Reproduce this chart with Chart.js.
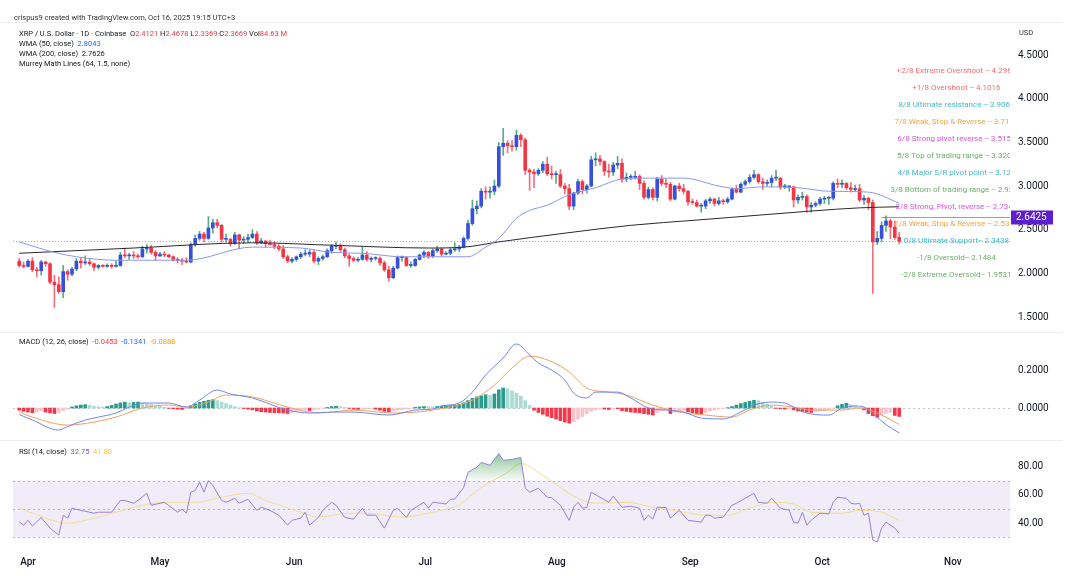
<!DOCTYPE html>
<html>
<head>
<meta charset="utf-8">
<title>XRP / U.S. Dollar - 1D</title>
<script src="https://cdn.jsdelivr.net/npm/chart.js@4.4.1/dist/chart.umd.min.js"></script>
<style>
  body { margin: 0; background: #fff; font-family: Roboto, "Liberation Sans", sans-serif; }
  #wrap { position: relative; width: 1065px; height: 576px; overflow: hidden; }
  canvas { position: absolute; left: 0; }
  .t { position: absolute; font-size: 7.5px; line-height: 10px; color: #131722; white-space: nowrap; }
  .sep { position: absolute; left: 0; width: 1062px; height: 1px; background: #eceef2; }
  .r { color: #f23645; }
</style>
</head>
<body>
<div id="wrap">
  <canvas id="price" width="1065" height="311" style="top:22px"></canvas>
  <canvas id="macd" width="1065" height="108" style="top:333px"></canvas>
  <canvas id="rsi" width="1065" height="135" style="top:441px"></canvas>
  <div class="sep" style="top:22px"></div>
  <div class="sep" style="top:332px"></div>
  <div class="sep" style="top:440px"></div>

  <div class="t" style="left:14px;top:13px;color:#333">crispus9 created with TradingView.com, Oct 16, 2025 19:15 UTC+3</div>
  <div class="t" style="left:19px;top:29px">XRP / U.S. Dollar · 1D · Coinbase&nbsp; O<span class="r" id="lo"></span> H<span class="r" id="lh"></span> L<span class="r" id="ll"></span> C<span class="r" id="lc"></span> Vol<span class="r">84.63 M</span></div>
  <div class="t" style="left:19px;top:39px">WMA (50, close)&nbsp; <span id="lw50" style="color:#2962ff"></span></div>
  <div class="t" style="left:19px;top:49px">WMA (200, close)&nbsp; <span id="lw200"></span></div>
  <div class="t" style="left:19px;top:59px">Murrey Math Lines (64, 1.5, none)</div>
  <div class="t" style="left:1019px;top:28px;color:#333">USD</div>
  <div class="t" style="left:19px;top:337px">MACD (12, 26, close)&nbsp; <span id="mh" class="r"></span>&nbsp; <span id="mm" style="color:#2962ff"></span>&nbsp; <span id="ms" style="color:#ff9800"></span></div>
  <div class="t" style="left:19px;top:447px">RSI (14, close)&nbsp; <span id="rv" style="color:#7e57c2"></span>&nbsp; <span id="rm" style="color:#f5c542"></span></div>
</div>

<script>
// daily candles, Mar 30 .. Oct 16 2025 (day 0 = Apr 1)
const firstDay = -2;
// where the month labels sit on the day axis
const monthTicks = [0, 30, 60.5, 90.3, 120.2, 150.5, 180.5, 210.2];
const monthLabels = ["Apr", "May", "Jun", "Jul", "Aug", "Sep", "Oct", "Nov"];
const priceTicks = [1.5, 2, 2.5, 3, 3.5, 4, 4.5];
const macdTicks = [0, 0.2];
const rsiTicks = [40, 60, 80];

const open = [
  2.14, 2.09,
  2.08, 2.14, 2.04, 2.03, 2.13, 2.11, 1.90, 1.87, 1.79, 2.02, 1.99, 2.05, 2.14, 2.12, 2.13, 2.11, 2.07, 2.09, 2.08, 2.09, 2.08, 2.09, 2.21, 2.20, 2.21, 2.20, 2.19, 2.28, 2.29, 2.24,
  2.20, 2.22, 2.21, 2.19, 2.16, 2.15, 2.14, 2.13, 2.33, 2.40, 2.45, 2.40, 2.52, 2.58, 2.55, 2.39, 2.39, 2.34, 2.44, 2.38, 2.39, 2.41, 2.45, 2.35, 2.37, 2.34, 2.33, 2.31, 2.28, 2.19, 2.14,
  2.16, 2.19, 2.22, 2.22, 2.24, 2.14, 2.17, 2.19, 2.26, 2.31, 2.32, 2.27, 2.20, 2.17, 2.15, 2.16, 2.21, 2.16, 2.17, 2.17, 2.12, 2.04, 1.95, 2.06, 2.18, 2.18, 2.09, 2.09, 2.16, 2.21,
  2.24, 2.20, 2.26, 2.28, 2.22, 2.23, 2.27, 2.28, 2.30, 2.40, 2.57, 2.74, 2.77, 2.94, 2.93, 2.94, 3.00, 3.45, 3.49, 3.46, 3.45, 3.58, 3.53, 3.18, 3.16, 3.14, 3.18, 3.25, 3.14, 3.13, 3.13,
  3.00, 2.97, 2.77, 2.92, 3.05, 2.96, 3.00, 3.30, 3.31, 3.28, 3.17, 3.16, 3.24, 3.26, 3.08, 3.10, 3.10, 3.11, 3.03, 2.87, 2.96, 2.87, 3.08, 3.03, 3.02, 2.85, 3.00, 2.97, 2.94, 2.82, 2.81,
  2.77, 2.77, 2.83, 2.85, 2.80, 2.83, 2.82, 2.85, 2.96, 2.93, 3.02, 3.05, 3.10, 3.13, 3.05, 3.03, 3.04, 3.09, 3.09, 2.99, 2.99, 2.99, 2.84, 2.87, 2.88, 2.76, 2.78, 2.80, 2.85, 2.86,
  2.86, 3.03, 3.02, 3.03, 2.98, 2.96, 2.97, 2.84, 2.86, 2.81, 2.36, 2.40, 2.55, 2.60, 2.53, 2.4121
];
const high = [
  2.17, 2.13,
  2.16, 2.18, 2.07, 2.15, 2.14, 2.12, 1.98, 1.96, 2.09, 2.04, 2.07, 2.17, 2.18, 2.20, 2.16, 2.12, 2.10, 2.10, 2.11, 2.11, 2.14, 2.24, 2.29, 2.23, 2.25, 2.22, 2.31, 2.33, 2.32, 2.26,
  2.24, 2.25, 2.22, 2.20, 2.18, 2.17, 2.18, 2.35, 2.44, 2.48, 2.47, 2.65, 2.62, 2.62, 2.56, 2.45, 2.40, 2.47, 2.45, 2.42, 2.45, 2.50, 2.48, 2.40, 2.38, 2.38, 2.36, 2.33, 2.32, 2.21, 2.18,
  2.20, 2.24, 2.27, 2.27, 2.26, 2.19, 2.21, 2.28, 2.33, 2.36, 2.34, 2.29, 2.22, 2.19, 2.18, 2.30, 2.25, 2.19, 2.19, 2.19, 2.14, 2.08, 2.08, 2.20, 2.20, 2.19, 2.13, 2.17, 2.22, 2.26,
  2.25, 2.28, 2.31, 2.29, 2.25, 2.29, 2.35, 2.32, 2.42, 2.61, 2.84, 2.83, 2.97, 2.99, 2.99, 3.07, 3.50, 3.66, 3.52, 3.52, 3.64, 3.60, 3.55, 3.20, 3.19, 3.20, 3.28, 3.33, 3.23, 3.17, 3.19,
  3.03, 3.02, 2.93, 3.08, 3.07, 3.02, 3.34, 3.38, 3.35, 3.29, 3.25, 3.27, 3.34, 3.31, 3.15, 3.13, 3.17, 3.13, 3.06, 2.99, 2.98, 3.10, 3.12, 3.08, 3.04, 3.01, 3.03, 3.02, 2.95, 2.85, 2.84,
  2.80, 2.85, 2.87, 2.86, 2.87, 2.85, 2.87, 2.98, 3.01, 3.04, 3.07, 3.13, 3.18, 3.14, 3.09, 3.07, 3.12, 3.18, 3.10, 3.02, 3.00, 3.00, 2.90, 2.93, 2.90, 2.81, 2.82, 2.87, 2.88, 2.88,
  3.05, 3.08, 3.07, 3.04, 3.04, 3.01, 3.02, 2.89, 2.87, 2.84, 2.48, 2.59, 2.66, 2.62, 2.60, 2.4678
];
const low = [
  2.07, 2.06,
  2.07, 2.02, 1.96, 1.98, 2.08, 1.88, 1.61, 1.77, 1.72, 1.92, 1.97, 2.03, 2.06, 2.10, 2.09, 2.03, 2.05, 2.07, 2.07, 2.06, 2.07, 2.08, 2.18, 2.16, 2.17, 2.17, 2.18, 2.23, 2.22, 2.15,
  2.19, 2.19, 2.18, 2.14, 2.12, 2.10, 2.12, 2.12, 2.31, 2.38, 2.36, 2.39, 2.46, 2.52, 2.36, 2.36, 2.31, 2.33, 2.28, 2.34, 2.35, 2.40, 2.33, 2.34, 2.30, 2.32, 2.28, 2.26, 2.17, 2.12, 2.12,
  2.14, 2.17, 2.20, 2.19, 2.12, 2.10, 2.15, 2.18, 2.23, 2.28, 2.25, 2.18, 2.08, 2.13, 2.13, 2.15, 2.14, 2.13, 2.15, 2.09, 2.02, 1.91, 1.94, 2.05, 2.14, 2.08, 2.07, 2.08, 2.15, 2.18,
  2.17, 2.18, 2.24, 2.20, 2.21, 2.21, 2.25, 2.25, 2.29, 2.38, 2.55, 2.68, 2.75, 2.85, 2.86, 2.90, 2.98, 3.35, 3.38, 3.40, 3.41, 3.45, 3.13, 2.95, 2.98, 3.12, 3.15, 3.12, 3.08, 3.03, 2.98,
  2.91, 2.73, 2.73, 2.90, 2.91, 2.92, 2.99, 3.23, 3.24, 3.12, 3.10, 3.12, 3.20, 3.04, 3.05, 3.07, 3.08, 2.96, 2.85, 2.85, 2.84, 2.83, 3.00, 2.98, 2.83, 2.84, 2.94, 2.91, 2.78, 2.79, 2.76,
  2.70, 2.74, 2.80, 2.77, 2.78, 2.79, 2.80, 2.84, 2.92, 2.92, 3.00, 3.03, 3.08, 3.03, 2.96, 3.00, 2.99, 3.06, 2.96, 2.97, 2.94, 2.76, 2.80, 2.84, 2.70, 2.70, 2.76, 2.78, 2.80, 2.79,
  2.84, 2.98, 2.98, 2.96, 2.93, 2.94, 2.82, 2.79, 2.73, 1.77, 2.33, 2.36, 2.48, 2.40, 2.39, 2.3369
];
const close = [
  2.09, 2.08,
  2.14, 2.04, 2.03, 2.13, 2.11, 1.90, 1.87, 1.79, 2.02, 1.99, 2.05, 2.14, 2.12, 2.13, 2.11, 2.07, 2.09, 2.08, 2.09, 2.08, 2.09, 2.21, 2.20, 2.21, 2.20, 2.19, 2.28, 2.29, 2.24, 2.20,
  2.22, 2.21, 2.19, 2.16, 2.15, 2.14, 2.13, 2.33, 2.40, 2.45, 2.40, 2.52, 2.58, 2.55, 2.39, 2.39, 2.34, 2.44, 2.38, 2.39, 2.41, 2.45, 2.35, 2.37, 2.34, 2.33, 2.31, 2.28, 2.19, 2.14, 2.16,
  2.19, 2.22, 2.22, 2.24, 2.14, 2.17, 2.19, 2.26, 2.31, 2.32, 2.27, 2.20, 2.17, 2.15, 2.16, 2.21, 2.16, 2.17, 2.17, 2.12, 2.04, 1.95, 2.06, 2.18, 2.18, 2.09, 2.09, 2.16, 2.21, 2.24,
  2.20, 2.26, 2.28, 2.22, 2.23, 2.27, 2.28, 2.30, 2.40, 2.57, 2.74, 2.77, 2.94, 2.93, 2.94, 3.00, 3.45, 3.49, 3.46, 3.45, 3.58, 3.53, 3.18, 3.16, 3.14, 3.18, 3.25, 3.14, 3.13, 3.13, 3.00,
  2.97, 2.77, 2.92, 3.05, 2.96, 3.00, 3.30, 3.31, 3.28, 3.17, 3.16, 3.24, 3.26, 3.08, 3.10, 3.10, 3.11, 3.03, 2.87, 2.96, 2.87, 3.08, 3.03, 3.02, 2.85, 3.00, 2.97, 2.94, 2.82, 2.81, 2.77,
  2.77, 2.83, 2.85, 2.80, 2.83, 2.82, 2.85, 2.96, 2.93, 3.02, 3.05, 3.10, 3.13, 3.05, 3.03, 3.04, 3.09, 3.09, 2.99, 2.99, 2.99, 2.84, 2.87, 2.88, 2.76, 2.78, 2.80, 2.85, 2.86, 2.86,
  3.03, 3.02, 3.03, 2.98, 2.96, 2.97, 2.84, 2.86, 2.81, 2.36, 2.40, 2.55, 2.60, 2.53, 2.41, 2.3669
];

// moving averages (day, value)
const wma50Days = [-2, 6, 11, 20, 36, 51, 62, 69, 76, 85, 91, 100, 104, 107, 111, 114, 118, 123, 129, 135, 141, 149, 157, 161, 167, 175, 182, 191, 198];
const wma50 = [2.36, 2.24, 2.19, 2.15, 2.15, 2.30, 2.29, 2.24, 2.23, 2.19, 2.19, 2.19, 2.30, 2.40, 2.63, 2.72, 2.78, 2.90, 2.98, 3.08, 3.09, 3.09, 3.00, 2.97, 2.99, 2.98, 2.94, 2.93, 2.8043];
const wma200Days = [-2, 24, 51, 70, 91, 99, 107, 122, 137, 152, 167, 189, 198];
const wma200 = [2.23, 2.29, 2.35, 2.32, 2.29, 2.30, 2.36, 2.46, 2.55, 2.61, 2.67, 2.75, 2.7626];

// Murrey Math levels
const murreyLevels = [4.2969, 4.1016, 3.9063, 3.7109, 3.5156, 3.3203, 3.125, 2.9297, 2.7344, 2.5391, 2.3438, 2.1484, 1.9531];
const murreyLabels = [
  "+2/8 Extreme Overshoot -- 4.2969", "+1/8 Overshoot -- 4.1016", "8/8 Ultimate resistance -- 3.9063",
  "7/8 Weak, Stop & Reverse -- 3.7109", "6/8 Strong pivot reverse -- 3.5156", "5/8 Top of trading range -- 3.3203",
  "4/8 Major S/R pivot point -- 3.125", "3/8 Bottom of trading range -- 2.9297", "2/8 Strong, Pivot, reverse -- 2.7344",
  "1/8 Weak, Stop & Reverse -- 2.5391", "0/8 Ultimate Support-- 2.3438", "-1/8 Oversold-- 2.1484", "-2/8 Extreme Oversold-- 1.9531"
];
const murreyColors = ["#ef6f74", "#ef6f74", "#45b6c9", "#f2a43c", "#d458d4", "#6cb06c", "#45b6c9", "#6cb06c", "#d458d4", "#f2a43c", "#45b6c9", "#6cb06c", "#6cb06c"];
const markLevel = 2.6425;
const markFromDay = 194;

// MACD (12, 26)
const macdHist = [
  -0.012, -0.018, -0.022, -0.025, -0.020, -0.015, -0.022, -0.026, -0.030, -0.024,
  -0.015, -0.006, 0.006, 0.012, 0.016, 0.018, 0.014, 0.010, 0.007, 0.005,
  0.008, 0.014, 0.022, 0.028, 0.032, 0.028, 0.030, 0.032, 0.028, 0.024,
  0.019, 0.014, 0.009, 0.004, -0.002, -0.004, -0.006, -0.008, -0.004, 0.012,
  0.022, 0.030, 0.036, 0.042, 0.045, 0.040, 0.032, 0.024, 0.016, 0.008,
  0.002, -0.003, -0.006, -0.010, -0.016, -0.020, -0.022, -0.024, -0.025, -0.026,
  -0.027, -0.029, -0.024, -0.020, -0.016, -0.012, -0.014, -0.010, -0.006, -0.002,
  0.003, 0.008, 0.010, 0.007, 0.003, -0.002, -0.006, -0.008, -0.006, -0.004,
  -0.003, -0.006, -0.012, -0.018, -0.021, -0.017, -0.012, -0.008, -0.004, -0.001,
  0.004, 0.006, 0.008, 0.007, 0.006, 0.008, 0.010, 0.012, 0.014, 0.016,
  0.020, 0.028, 0.040, 0.052, 0.060, 0.066, 0.072, 0.070, 0.076, 0.098,
  0.108, 0.104, 0.092, 0.080, 0.064, 0.040, 0.014, -0.012, -0.024, -0.034,
  -0.044, -0.052, -0.060, -0.068, -0.076, -0.082, -0.074, -0.060, -0.046, -0.030,
  -0.018, -0.010, -0.004, -0.006, -0.008, -0.004, -0.004, -0.014, -0.018, -0.022,
  -0.024, -0.026, -0.030, -0.034, -0.038, -0.024, -0.014, -0.010, -0.030, -0.022,
  -0.016, -0.012, -0.020, -0.026, -0.030, -0.032, -0.024, -0.016, -0.010, -0.006,
  -0.003, 0.002, 0.008, 0.016, 0.024, 0.030, 0.036, 0.042, 0.040, 0.030,
  0.020, 0.010, -0.002, -0.004, -0.006, -0.004, -0.010, -0.016, -0.020, -0.022,
  -0.024, -0.020, -0.016, -0.012, -0.008, -0.002, 0.012, 0.020, 0.026, 0.018,
  0.010, 0.002, -0.010, -0.030, -0.042, -0.050, -0.036, -0.028, -0.024, -0.040,
  -0.0453
];
const macdDays = [-2, 1, 7, 9, 13, 16, 20, 23, 26, 32, 36, 39, 43, 46, 51, 59, 64, 69, 74, 82, 88, 92, 94, 98, 101, 104, 108, 111, 114, 116, 119, 122, 124, 127, 129, 134, 137, 141, 145, 149, 153, 158, 162, 165, 169, 172, 174, 177, 182, 185, 188, 190, 192, 195, 198];
const macdLine = [-0.035, -0.065, -0.119, -0.10, -0.065, -0.049, -0.027, 0.005, 0.027, 0.027, 0.005, 0.043, 0.097, 0.076, 0.054, -0.011, -0.027, -0.022, -0.022, -0.038, -0.011, -0.005, 0.011, 0.027, 0.086, 0.178, 0.27, 0.346, 0.286, 0.243, 0.205, 0.151, 0.081, 0.054, 0.086, 0.086, 0.054, 0.0, -0.011, -0.022, -0.054, -0.059, -0.022, 0.016, 0.032, 0.027, 0.005, -0.027, -0.038, 0.0, 0.011, 0.005, -0.03, -0.09, -0.1341];
const signalDays = [-2, 1, 9, 15, 20, 26, 32, 36, 41, 45, 51, 59, 66, 74, 83, 92, 101, 106, 110, 114, 118, 123, 127, 132, 136, 142, 148, 154, 160, 164, 169, 174, 178, 185, 189, 194, 198];
const signalLine = [-0.022, -0.049, -0.092, -0.076, -0.049, 0.0, 0.016, 0.005, 0.032, 0.07, 0.06, 0.005, -0.027, -0.011, -0.027, -0.011, 0.043, 0.124, 0.216, 0.28, 0.26, 0.195, 0.108, 0.086, 0.07, 0.016, -0.022, -0.038, -0.049, -0.011, 0.016, 0.005, -0.011, -0.011, 0.0, -0.038, -0.0888];

// RSI (14)
const rsiDays = [-2, -1, 0, 1, 3, 5, 7, 8, 9, 10, 12, 15, 16, 19, 21, 22, 24, 25, 27, 28, 31, 34, 35, 36, 37, 38, 39, 40, 41, 42, 44, 45, 47, 48, 50, 52, 53, 55, 57, 59, 60, 62, 63, 64, 66, 67, 69, 70, 72, 74, 76, 77, 79, 81, 83, 84, 86, 87, 90, 91, 92, 94, 95, 96, 97, 99, 100, 102, 103, 105, 107, 108, 110, 112, 113, 114, 116, 118, 119, 121, 123, 124, 125, 126, 127, 128, 130, 132, 133, 135, 137, 139, 140, 141, 142, 143, 145, 146, 148, 150, 153, 154, 155, 156, 158, 160, 161, 163, 165, 166, 168, 169, 171, 173, 174, 175, 176, 177, 178, 180, 182, 183, 184, 186, 187, 188, 189, 190, 191, 192, 193, 194, 195, 197, 198];
const rsi = [41, 38.6, 42, 38, 44, 36.5, 31.6, 45.6, 43.5, 50.5, 49, 47, 47.7, 47.7, 56, 56, 54, 56, 61, 52.6, 54.7, 47.7, 49.8, 47, 61.8, 63, 68.8, 61.8, 70, 66.7, 56, 54.7, 57.5, 54, 56.8, 49, 51.2, 49, 45.6, 38.6, 42, 43.5, 47.7, 38.6, 44, 49, 54.7, 52.6, 44, 42.8, 50.5, 45.6, 45.6, 36.5, 49, 50.5, 44, 49, 54.7, 50.5, 54.7, 54, 53.5, 56.8, 57, 65, 75.8, 79.3, 82.8, 80.7, 89, 84.2, 84.9, 86.3, 64.6, 61.8, 64.6, 58.2, 58, 52.6, 42, 51.2, 54.7, 50.5, 51, 61.8, 58.2, 54.7, 59, 51.2, 51.9, 50.5, 42, 45.6, 42.8, 51.2, 51, 43.5, 49, 42, 40.7, 45.6, 45.6, 43.5, 44.2, 52.6, 54, 57.5, 61, 54.7, 54, 57.5, 50.5, 49, 40.7, 40, 47.7, 38.6, 42, 47, 46.5, 54.7, 58.2, 57.5, 54, 53.5, 54, 45.6, 47, 28, 26.7, 36.5, 40.7, 36.5, 32.75];
const rsiMaDays = [-2, 1, 9, 15, 20, 26, 32, 38, 43, 50, 54, 62, 66, 73, 77, 85, 92, 94, 98, 103, 109, 112, 116, 121, 126, 130, 136, 142, 147, 154, 159, 164, 169, 174, 178, 185, 189, 194, 198];
const rsiMa = [50.5, 47, 40, 43.5, 47.7, 52.6, 54.7, 54.7, 57.5, 61, 56, 47.7, 44.2, 47, 47, 44.2, 47.7, 49, 53, 65, 75.8, 82, 75.8, 65, 56, 54, 54.7, 51.2, 49, 45.6, 45.6, 50.5, 54.7, 53.5, 47.7, 47, 49, 47.7, 41.8];

// ---------------------------------------------------------------
const xMin = -3.41, xMax = 223.18;
const days = close.map((c, i) => firstDay + i);
const pts = (xs, ys) => xs.map((x, i) => ({ x: x, y: ys[i] }));
const last = a => a[a.length - 1];

const upBody = "#3550dd", downBody = "#f23645";
const upWick = "#5aa987", downWick = "#f0707c";
const isUp = close.map((c, i) => c >= open[i]);

document.getElementById("lo").textContent = last(open).toFixed(4);
document.getElementById("lh").textContent = last(high).toFixed(4);
document.getElementById("ll").textContent = last(low).toFixed(4);
document.getElementById("lc").textContent = last(close).toFixed(4);
document.getElementById("lw50").textContent = last(wma50).toFixed(4);
document.getElementById("lw200").textContent = last(wma200).toFixed(4);
document.getElementById("mh").textContent = last(macdHist).toFixed(4);
document.getElementById("mm").textContent = last(macdLine).toFixed(4);
document.getElementById("ms").textContent = last(signalLine).toFixed(4);
document.getElementById("rv").textContent = last(rsi).toFixed(2);
document.getElementById("rm").textContent = last(rsiMa).toFixed(2);

function hiddenX() {
  return { type: "linear", min: xMin, max: xMax, offset: false, display: false };
}
function rightY(min, max, tickList, digits) {
  return {
    position: "right", min: min, max: max,
    afterBuildTicks: s => { s.ticks = tickList.map(v => ({ value: v })); },
    afterFit: s => { s.width = 55; s.paddingTop = 0; s.paddingBottom = 0; },
    grid: { display: false, drawTicks: false },
    border: { display: false },
    ticks: { padding: 8, color: "#131722", font: { size: 10, family: "Roboto" }, callback: v => v.toFixed(digits) }
  };
}
const base = {
  responsive: false,
  animation: false,
  layout: { padding: { left: 13, right: 0, top: 0, bottom: 0 } },
  plugins: { legend: { display: false }, tooltip: { enabled: false } }
};
const lineDs = (data, color, extra) => Object.assign({
  type: "line", data: data, borderColor: color, borderWidth: 1, pointRadius: 0,
  cubicInterpolationMode: "monotone", fill: false, order: 0
}, extra || {});

function hline(ctx, a, y, color, dash) {
  ctx.save();
  ctx.strokeStyle = color; ctx.lineWidth = 1; ctx.setLineDash(dash);
  ctx.beginPath(); ctx.moveTo(a.left, Math.round(y) + 0.5); ctx.lineTo(a.right, Math.round(y) + 0.5); ctx.stroke();
  ctx.restore();
}

// ---- price pane
const priceMarks = {
  id: "priceMarks",
  beforeDatasetsDraw(chart) {
    const { ctx, chartArea: a, scales: { y } } = chart;
    hline(ctx, a, y.getPixelForValue(last(close)), "rgba(242,54,69,0.55)", [1, 2]);
  },
  afterDatasetsDraw(chart) {
    const { ctx, chartArea: a, scales: { x, y } } = chart;
    ctx.save();
    ctx.beginPath(); ctx.rect(a.left, a.top, a.width, a.height); ctx.clip();
    ctx.font = "8px Roboto"; ctx.textAlign = "center"; ctx.textBaseline = "alphabetic";
    const cx = x.getPixelForValue(211);
    murreyLevels.forEach((v, i) => {
      ctx.fillStyle = murreyColors[i];
      ctx.fillText(murreyLabels[i], cx, y.getPixelForValue(v));
    });
    const my = Math.round(y.getPixelForValue(markLevel)) + 0.5;
    ctx.strokeStyle = "rgba(120,80,225,0.65)"; ctx.lineWidth = 1;
    ctx.beginPath(); ctx.moveTo(x.getPixelForValue(markFromDay), my); ctx.lineTo(a.right, my); ctx.stroke();
    ctx.restore();
    ctx.save();
    ctx.fillStyle = "#5b1fd0";
    ctx.fillRect(a.right + 1, my - 7, 42, 14);
    ctx.fillStyle = "#fff"; ctx.font = "10px Roboto"; ctx.textAlign = "left"; ctx.textBaseline = "middle";
    ctx.fillText(markLevel.toFixed(4), a.right + 6, my);
    ctx.restore();
  }
};

new Chart(document.getElementById("price"), {
  type: "bar",
  data: {
    datasets: [
      lineDs(pts(wma50Days, wma50), "#8797ef"),
      lineDs(pts(wma200Days, wma200), "#2a2a2a"),
      {
        data: days.map((d, i) => ({ x: d, y: [open[i], close[i]] })),
        backgroundColor: isUp.map(u => u ? upBody : downBody),
        barThickness: 3, minBarLength: 1, grouped: false, order: 1
      },
      {
        data: days.map((d, i) => ({ x: d, y: [low[i], high[i]] })),
        backgroundColor: isUp.map(u => u ? upWick : downWick),
        barThickness: 1, grouped: false, order: 2
      }
    ]
  },
  options: Object.assign({}, base, {
    scales: { x: hiddenX(), y: rightY(1.317, 4.878, priceTicks, 4) }
  }),
  plugins: [priceMarks]
});

// ---- MACD pane
const macdZero = {
  id: "macdZero",
  beforeDatasetsDraw(chart) {
    const { ctx, chartArea: a, scales: { y } } = chart;
    hline(ctx, a, y.getPixelForValue(0), "rgba(120,123,134,0.45)", [2, 3]);
  }
};
new Chart(document.getElementById("macd"), {
  type: "bar",
  data: {
    datasets: [
      lineDs(pts(macdDays, macdLine), "#7086f0"),
      lineDs(pts(signalDays, signalLine), "#f0a060"),
      {
        data: days.map((d, i) => ({ x: d, y: macdHist[i] })),
        backgroundColor: macdHist.map((v, i) => {
          const prev = i > 0 ? macdHist[i - 1] : v;
          if (v >= 0) return v >= prev ? "#2b9c8c" : "#aadcd3";
          return v <= prev ? "#f03a4c" : "#f9c3cb";
        }),
        barThickness: 3, grouped: false, order: 1
      }
    ]
  },
  options: Object.assign({}, base, {
    scales: { x: hiddenX(), y: rightY(-0.178, 0.405, macdTicks, 4) }
  }),
  plugins: [macdZero]
});

// ---- RSI pane
const rsiBand = {
  id: "rsiBand",
  beforeDatasetsDraw(chart) {
    const { ctx, chartArea: a, scales: { y } } = chart;
    const y70 = y.getPixelForValue(70), y30 = y.getPixelForValue(30);
    ctx.save();
    ctx.fillStyle = "rgba(126,87,194,0.11)";
    ctx.fillRect(a.left, y70, a.width, y30 - y70);
    ctx.restore();
    [70, 50, 30].forEach(v => hline(ctx, a, y.getPixelForValue(v), "rgba(120,123,134,0.5)", [2, 3]));
  }
};
const rsiCanvas = document.getElementById("rsi");
const rsiChart = new Chart(rsiCanvas, {
  type: "line",
  data: {
    datasets: [
      lineDs(pts(rsiDays, rsi), "#9b7fd1", {
        cubicInterpolationMode: "default", tension: 0,
        fill: { target: { value: 70 }, above: "rgba(60,160,90,0.3)", below: "rgba(0,0,0,0)" }
      }),
      lineDs(pts(rsiMaDays, rsiMa), "#f6dc8e", { order: 1 })
    ]
  },
  options: Object.assign({}, base, {
    scales: {
      x: {
        type: "linear", min: xMin, max: xMax, offset: false,
        afterBuildTicks: s => { s.ticks = monthTicks.map(v => ({ value: v })); },
        afterFit: s => { s.height = 29; s.paddingLeft = 0; s.paddingRight = 0; },
        grid: { display: false, drawTicks: false },
        border: { display: false },
        ticks: {
          autoSkip: false, maxRotation: 0, padding: 9, color: "#131722",
          font: { size: 10, weight: "500", family: "Roboto" },
          callback: v => monthLabels[monthTicks.indexOf(v)]
        }
      },
      y: rightY(23.2, 97.5, rsiTicks, 2)
    }
  }),
  plugins: [rsiBand]
});
const ry = rsiChart.scales.y;
const grad = rsiCanvas.getContext("2d").createLinearGradient(0, ry.getPixelForValue(90), 0, ry.getPixelForValue(70));
grad.addColorStop(0, "rgba(56,155,80,0.6)");
grad.addColorStop(1, "rgba(56,155,80,0.04)");
rsiChart.data.datasets[0].fill.above = grad;
rsiChart.update("none");
</script>
</body>
</html>
